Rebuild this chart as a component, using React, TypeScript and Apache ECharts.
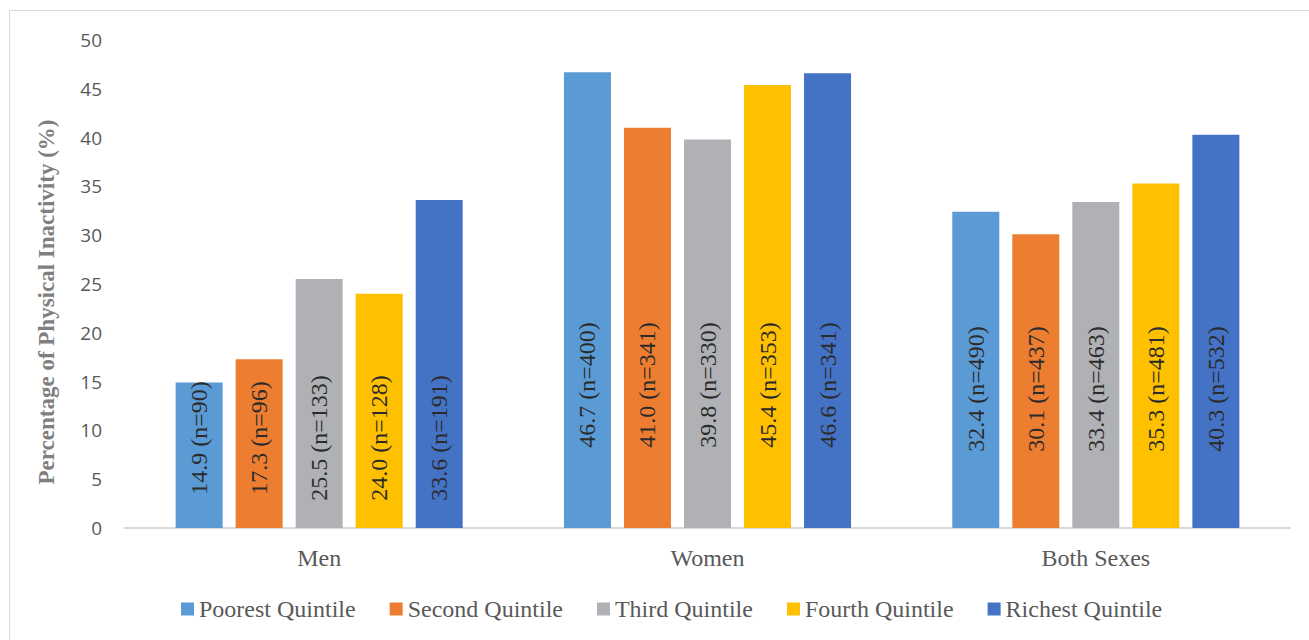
import React, { useEffect, useRef } from "react";
import * as echarts from "echarts";

const categories = ["Men", "Women", "Both Sexes"];
const quintiles = ["Poorest Quintile", "Second Quintile", "Third Quintile", "Fourth Quintile", "Richest Quintile"];

const poorest = [14.9, 46.7, 32.4];
const second = [17.3, 41.0, 30.1];
const third = [25.5, 39.8, 33.4];
const fourth = [24.0, 45.4, 35.3];
const richest = [33.6, 46.6, 40.3];

const poorestN = [90, 400, 490];
const secondN = [96, 341, 437];
const thirdN = [133, 330, 463];
const fourthN = [128, 353, 481];
const richestN = [191, 341, 532];

const yTicks = [0, 5, 10, 15, 20, 25, 30, 35, 40, 45, 50];
const yTitle = "Percentage of Physical Inactivity (%)";

const colors = ["#5B9BD5", "#ED7D31", "#B0B1B4", "#FFC000", "#4472C4"];
// label centre distance above base (px) for each category (style)
const labelLift = [90, 143, 139];

const SERIF = "Liberation Serif";
const SANS = "Open Sans";

export default function App() {
  const ref = useRef<HTMLDivElement>(null);
  useEffect(() => {
    if (!ref.current) return;
    const chart = echarts.init(ref.current, null, { renderer: "svg" });
    const values = [poorest, second, third, fourth, richest];
    const ns = [poorestN, secondN, thirdN, fourthN, richestN];
    const series = quintiles.map((name, si) => ({
      name,
      type: "bar",
      barWidth: 47,
      barGap: "27.7%",
      itemStyle: { color: colors[si] },
      data: values[si].map((v, ci) => ({
        value: v,
        label: {
          show: true,
          position: "insideBottom",
          distance: labelLift[ci],
          rotate: 90,
          align: "center",
          verticalAlign: "middle",
          formatter: () => `${v.toFixed(1)} (n=${ns[si][ci]})`,
          color: "#2b2b2b",
          fontFamily: SERIF,
          fontSize: 24,
        },
      })),
    }));
    chart.setOption({
      animation: false,
      backgroundColor: "#ffffff",
      textStyle: { fontFamily: SERIF },
      graphic: [
        {
          type: "rect",
          shape: { x: 9.5, y: 10.5, width: 1400, height: 700 },
          style: { fill: "none", stroke: "#d9d9d9", lineWidth: 1 },
          silent: true,
        },
        {
          type: "text",
          x: 46,
          y: 302,
          rotation: Math.PI / 2,
          silent: true,
          style: {
            text: yTitle,
            fontFamily: SERIF,
            fontSize: 23,
            fontWeight: "bold",
            fill: "#7f7f7f",
            align: "center",
            verticalAlign: "middle",
          },
        },
      ],
      grid: { left: 125, right: 19, top: 40, bottom: 112, containLabel: false },
      legend: {
        left: 176,
        top: 592,
        itemWidth: 13,
        itemHeight: 13,
        itemGap: 34,
        icon: "rect",
        textStyle: { fontFamily: SERIF, fontSize: 24, color: "#595959" },
        data: quintiles,
      },
      xAxis: {
        type: "category",
        data: categories,
        axisLine: { show: true, lineStyle: { color: "#d9d9d9", width: 2 } },
        axisTick: { show: false },
        axisLabel: { margin: 18, fontFamily: SERIF, fontSize: 24, color: "#595959" },
      },
      yAxis: {
        type: "value",
        min: yTicks[0],
        max: yTicks[yTicks.length - 1],
        interval: 5,
        splitLine: { show: false },
        axisLine: { show: false },
        axisTick: { show: false },
        axisLabel: { margin: 23, fontFamily: SANS, fontSize: 19, color: "#595959" },
      },
      series,
    });
    return () => chart.dispose();
  }, []);
  return (
    <div
      ref={ref}
      style={{ position: "absolute", left: 0, top: 0, width: 1309, height: 640 }}
    />
  );
}
